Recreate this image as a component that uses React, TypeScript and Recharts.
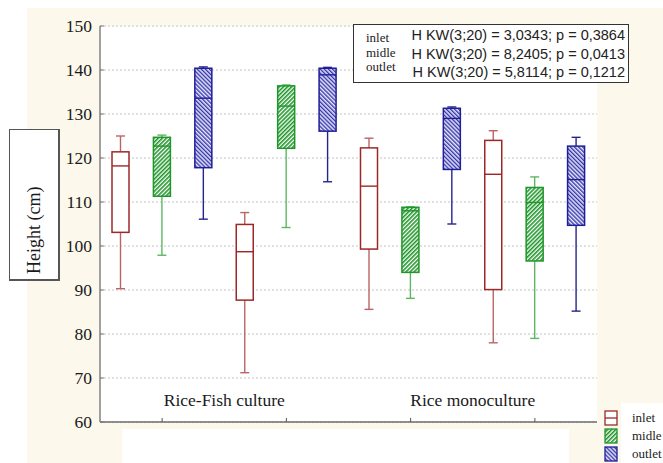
import React from "react";
import { ComposedChart, Bar, XAxis, YAxis, CartesianGrid } from "recharts";

// 12 boxes: two farms of inlet/midle/outlet per culture
const categories = [
  "RF inlet A", "RF midle A", "RF outlet A", "RF inlet B", "RF midle B", "RF outlet B",
  "RM inlet A", "RM midle A", "RM outlet A", "RM inlet B", "RM midle B", "RM outlet B",
];
const sites = ["inlet", "midle", "outlet"];
const whiskerLow = [90.3, 97.9, 106.1, 71.2, 104.2, 114.6, 85.6, 88.1, 105.0, 78.0, 79.0, 85.2];
const boxLow = [103.1, 111.3, 117.8, 87.7, 122.2, 126.1, 99.3, 94.0, 117.4, 90.1, 96.6, 104.7];
const medians = [118.2, 122.7, 133.6, 98.7, 131.8, 138.9, 113.6, 108.0, 129.0, 116.3, 109.9, 115.1];
const boxHigh = [121.4, 124.7, 140.4, 104.9, 136.4, 140.4, 122.3, 108.8, 131.3, 124.0, 113.3, 122.7];
const whiskerHigh = [125.0, 125.2, 140.7, 107.6, 136.6, 140.6, 124.5, 108.9, 131.6, 126.2, 115.7, 124.7];

const yTicks = [60, 70, 80, 90, 100, 110, 120, 130, 140, 150];
const xTicks = [categories[1], categories[4], categories[7], categories[10]];
const groupLabels: Record<string, string> = {
  [categories[1]]: "Rice-Fish culture",
  [categories[7]]: "Rice monoculture",
};
const testLines = [
  "H KW(3;20) = 3,0343; p = 0,3864",
  "H KW(3;20) = 8,2405; p = 0,0413",
  "H KW(3;20) = 5,8114; p = 0,1212",
];

const colors: Record<string, { stroke: string; whisker: string; fill: string }> = {
  inlet: { stroke: "#9c2828", whisker: "#bb6464", fill: "#ffffff" },
  midle: { stroke: "#1f962a", whisker: "#5cb860", fill: "url(#hatchMid)" },
  outlet: { stroke: "#1e1e9a", whisker: "#24248e", fill: "url(#hatchOut)" },
};

const data = categories.map((cat, i) => ({
  cat,
  site: sites[i % 3],
  range: [whiskerLow[i], whiskerHigh[i]],
  q1: boxLow[i],
  med: medians[i],
  q3: boxHigh[i],
}));

const serif = "'Liberation Serif', 'DejaVu Serif', serif";
const sans = "'Liberation Sans', Arial, sans-serif";

function BoxShape(props: any) {
  const { x, y, width, height, payload } = props;
  const [lo, hi] = payload.range;
  const top = Math.min(y, y + height);
  const bot = Math.max(y, y + height);
  const px = (v: number) => (hi === lo ? top : top + ((hi - v) / (hi - lo)) * (bot - top));
  const c = colors[payload.site];
  const cx = x + width / 2;
  const cap = 4.5;
  return (
    <g>
      <line x1={cx} x2={cx} y1={px(hi)} y2={px(payload.q3)} stroke={c.whisker} strokeWidth={1.4} />
      <line x1={cx - cap} x2={cx + cap} y1={px(hi)} y2={px(hi)} stroke={c.whisker} strokeWidth={1.4} />
      <line x1={cx} x2={cx} y1={px(payload.q1)} y2={px(lo)} stroke={c.whisker} strokeWidth={1.4} />
      <line x1={cx - cap} x2={cx + cap} y1={px(lo)} y2={px(lo)} stroke={c.whisker} strokeWidth={1.4} />
      <rect
        x={x}
        y={px(payload.q3)}
        width={width}
        height={px(payload.q1) - px(payload.q3)}
        fill={c.fill}
        stroke={c.stroke}
        strokeWidth={1.5}
      />
      <line x1={x} x2={x + width} y1={px(payload.med)} y2={px(payload.med)} stroke={c.stroke} strokeWidth={1.4} />
    </g>
  );
}

function GroupTick(props: any) {
  const { x, y, payload } = props;
  const label = groupLabels[payload.value];
  if (!label) return <g />;
  const off = payload.offset || 20.7;
  return (
    <text x={x + 3 * off} y={y - 12} textAnchor="middle" fontFamily={serif} fontSize={17.5} fill="#1a1a1a">
      {label}
    </text>
  );
}

const Swatch = ({ site }: { site: string }) => (
  <svg width={14} height={16} style={{ display: "block" }}>
    <rect x={1} y={1} width={12} height={14} fill={colors[site].fill} stroke={colors[site].stroke} strokeWidth={1.3} />
    {site === "inlet" && <line x1={1} x2={13} y1={8} y2={8} stroke={colors[site].stroke} strokeWidth={1.3} />}
  </svg>
);

export default function App() {
  return (
    <div style={{ position: "absolute", left: 0, top: 0, width: 663, height: 463, background: "#fff", overflow: "hidden" }}>
      <svg width={0} height={0} style={{ position: "absolute" }}>
        <defs>
          <pattern id="hatchMid" width={2.9} height={2.9} patternUnits="userSpaceOnUse" patternTransform="rotate(45)">
            <rect width={2.9} height={2.9} fill="#ffffff" />
            <line x1={0.8} y1={0} x2={0.8} y2={2.9} stroke="#1f962a" strokeWidth={1.6} />
          </pattern>
          <pattern id="hatchOut" width={2.9} height={2.9} patternUnits="userSpaceOnUse" patternTransform="rotate(-45)">
            <rect width={2.9} height={2.9} fill="#e8e8fa" />
            <line x1={0.7} y1={0} x2={0.7} y2={2.9} stroke="#2a2aa6" strokeWidth={1.3} />
          </pattern>
        </defs>
      </svg>
      {/* cream backdrop with white patches */}
      <div style={{ position: "absolute", left: 27, top: 8, width: 636, height: 455, background: "#fdf8ec" }} />
      <div style={{ position: "absolute", left: 122, top: 429, width: 447, height: 34, background: "#fff" }} />
      <div style={{ position: "absolute", left: 621, top: 403, width: 42, height: 60, background: "#fff" }} />

      <div style={{ position: "absolute", left: 0, top: 0 }}>
        <ComposedChart width={663} height={463} data={data} margin={{ top: 26, right: 66, bottom: 0, left: 0 }}>
          <CartesianGrid vertical={false} fill="#fff" fillOpacity={1} stroke="#c4c4c4" strokeDasharray="2 2" />
          <XAxis
            dataKey="cat"
            type="category"
            height={41}
            ticks={xTicks}
            tickSize={-4}
            tickMargin={0}
            tick={GroupTick}
            axisLine={{ stroke: "#6e6e6e", strokeWidth: 1.6 }}
            tickLine={{ stroke: "#555" }}
            interval={0}
          />
          <XAxis
            xAxisId="top"
            orientation="top"
            dataKey="cat"
            type="category"
            height={0}
            ticks={xTicks}
            tickSize={-4}
            tick={() => <g />}
            axisLine={{ stroke: "#333", strokeWidth: 1.4 }}
            tickLine={{ stroke: "#555" }}
            interval={0}
          />
          <YAxis
            domain={[60, 150]}
            ticks={yTicks}
            width={100}
            tickSize={-4}
            tickMargin={12}
            interval={0}
            tick={{ fontFamily: serif, fontSize: 17.5, fill: "#1a1a1a" }}
            axisLine={{ stroke: "#8a8a8a", strokeWidth: 1.6 }}
            tickLine={{ stroke: "#777" }}
          />
          <YAxis
            yAxisId="r"
            orientation="right"
            domain={[60, 150]}
            ticks={yTicks}
            width={0}
            tickSize={-4}
            interval={0}
            tick={() => <g />}
            axisLine={{ stroke: "#333", strokeWidth: 1.4 }}
            tickLine={{ stroke: "#444" }}
          />
          <Bar dataKey="range" barSize={17} shape={BoxShape} isAnimationActive={false} />
        </ComposedChart>
      </div>

      {/* Kruskal-Wallis annotation */}
      <div
        style={{
          position: "absolute", left: 353, top: 24, width: 274, height: 57,
          background: "#fff", border: "1.5px solid #333",
        }}
      >
        {sites.map((s, i) => (
          <div key={s} style={{ position: "absolute", left: 12, top: 6 + i * 14.5, fontFamily: serif, fontSize: 13, color: "#222", lineHeight: "14px" }}>
            {s}
          </div>
        ))}
        {testLines.map((t, i) => (
          <div key={t} style={{ position: "absolute", right: 3, top: 1 + i * 18.5, fontFamily: sans, fontSize: 14.5, color: "#222", lineHeight: "18px", whiteSpace: "nowrap" }}>
            {t}
          </div>
        ))}
      </div>

      {/* y label box */}
      <div
        style={{
          position: "absolute", left: 9, top: 129, width: 48, height: 149,
          background: "#fff", border: "1px solid #555", borderRightWidth: 2, borderBottomWidth: 2,
        }}
      />
      <svg width={60} height={300} style={{ position: "absolute", left: 0, top: 0 }}>
        <text transform="translate(40,274) rotate(-90)" fontFamily={serif} fontSize={18} fill="#1a1a1a">
          Height (cm)
        </text>
      </svg>

      {/* legend */}
      {sites.map((s, i) => (
        <div key={s} style={{ position: "absolute", left: 604, top: 410 + i * 18, display: "flex", alignItems: "center" }}>
          <Swatch site={s} />
          <span style={{ marginLeft: 14, fontFamily: serif, fontSize: 13, color: "#222", lineHeight: "16px" }}>{s}</span>
        </div>
      ))}
    </div>
  );
}
